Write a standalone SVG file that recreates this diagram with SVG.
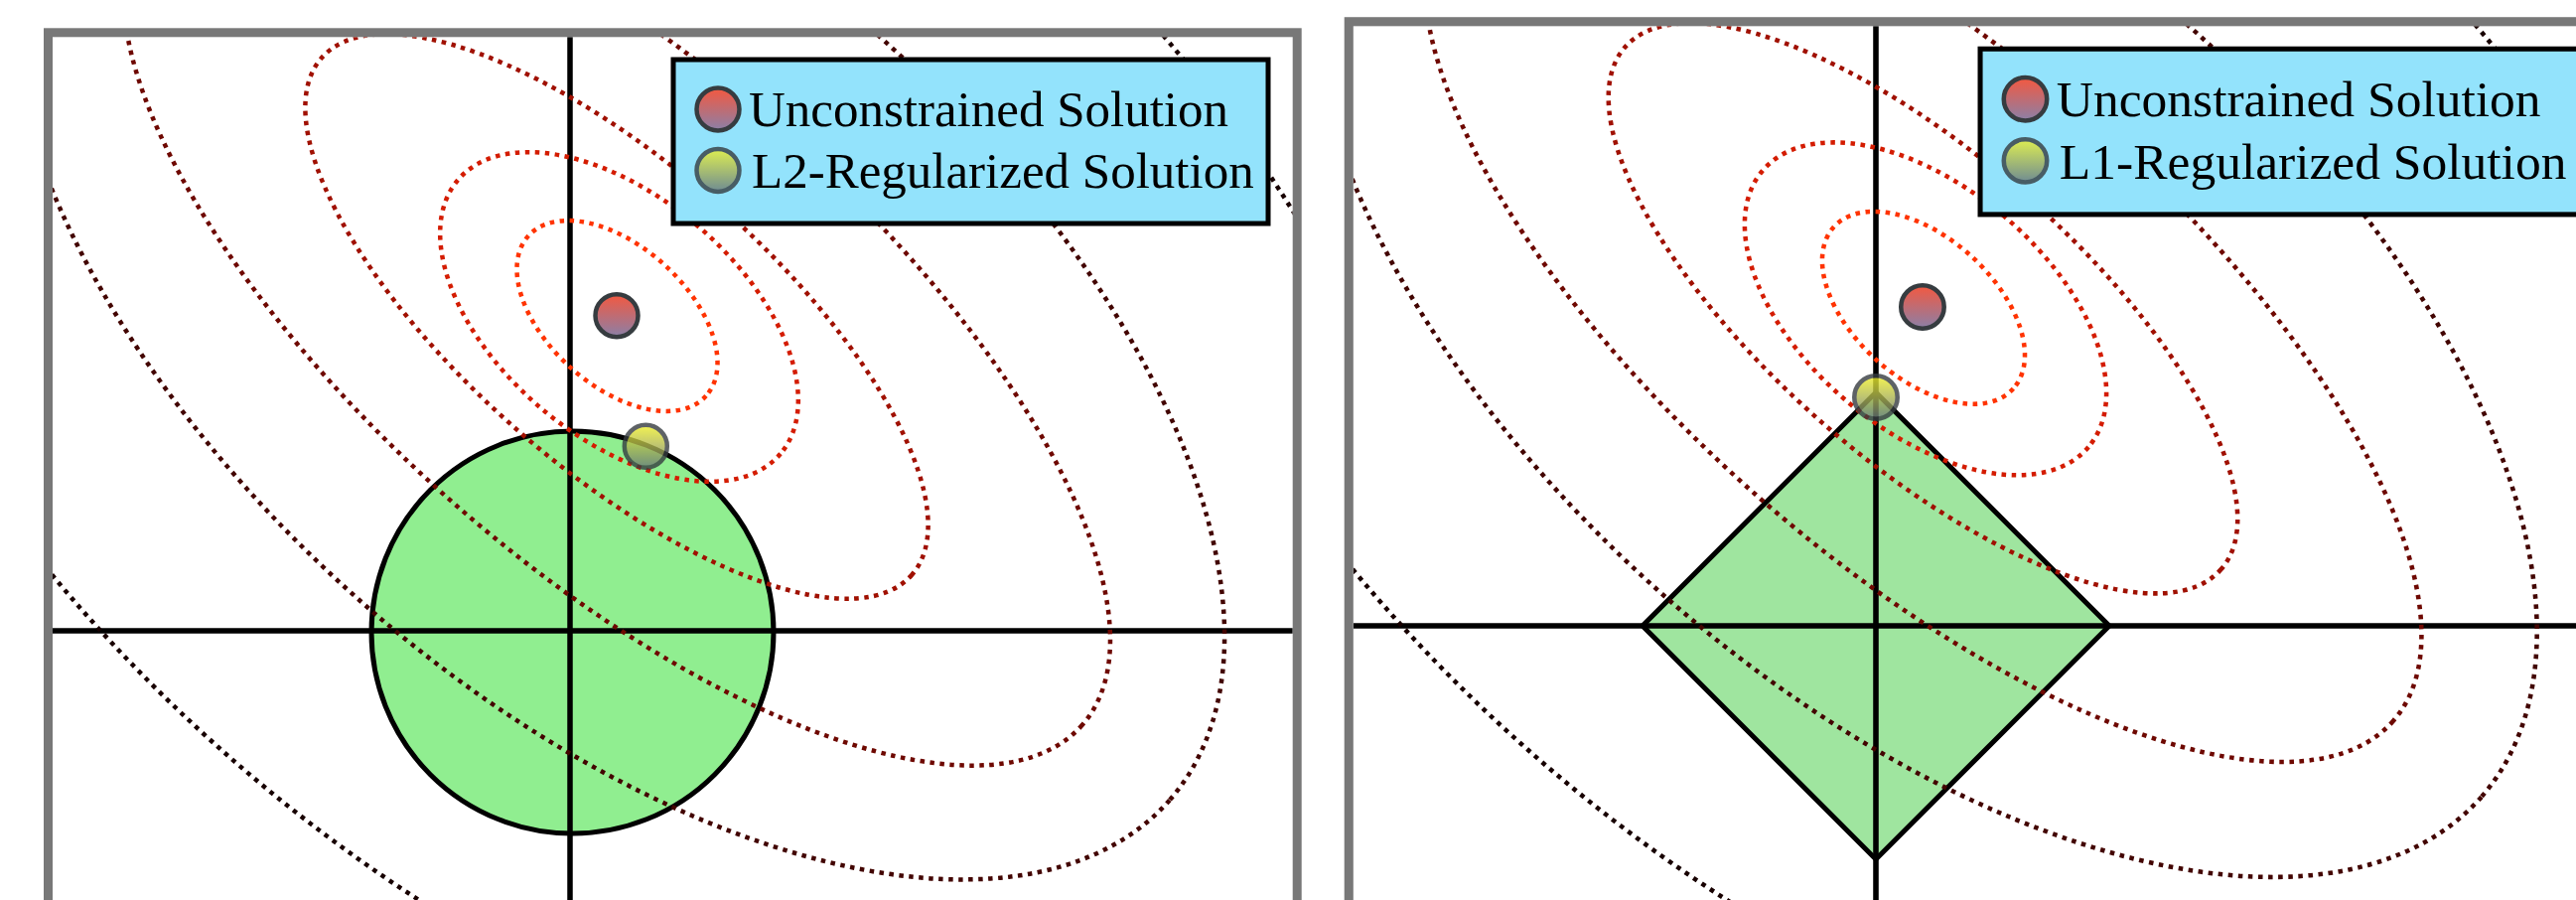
<svg xmlns="http://www.w3.org/2000/svg" width="2594" height="906" viewBox="0 0 2594 906">
<style>
.frame{fill:none;stroke:#787878;stroke-width:9}
.axis{stroke:#000;stroke-width:5.5;fill:none}
.region{stroke:#000;stroke-width:5;stroke-linejoin:miter}
.contour{fill:none;stroke-width:4.5;stroke-dasharray:4.5 5.5}
.legend-box{fill:#93e3fc;stroke:#000;stroke-width:5}
.label{font-family:"Liberation Serif","Times New Roman",serif;font-size:51px;fill:#000}
.dot{stroke:#363c40;stroke-width:4.5}
.dot-red{fill:url(#gRed)}
.dot-yel{fill:url(#gYel);opacity:0.8}
</style>
<defs>
<linearGradient id="gRed" x1="0" y1="0" x2="0" y2="1">
<stop offset="0" stop-color="#f4583f"/>
<stop offset="1" stop-color="#8a80a8"/>
</linearGradient>
<linearGradient id="gYel" x1="0" y1="0" x2="0" y2="1">
<stop offset="0" stop-color="#f2f226"/>
<stop offset="1" stop-color="#66767a"/>
</linearGradient>
<clipPath id="clipPanel"><rect x="53" y="37.3" width="1248.7" height="900"/></clipPath>
</defs>
<rect x="0" y="0" width="2594" height="906" fill="#fff"/>

<!-- LEFT PANEL: L2 -->
<g id="panel-l2">
<g clip-path="url(#clipPanel)">
<circle id="l2-region" class="region" cx="576.5" cy="636.5" r="202.5" fill="#90ee90"/>
<g id="l2-axes">
<line class="axis" x1="53" y1="635" x2="1302" y2="635"/>
<line class="axis" x1="574" y1="37" x2="574" y2="935"/>
</g>
<g id="l2-contours">
<ellipse class="contour" cx="621" cy="318" rx="985" ry="591" transform="rotate(41.2 621 318)" stroke="#170000"/>
<ellipse class="contour" cx="621" cy="318" rx="740" ry="386" transform="rotate(41.2 621 318)" stroke="#420400"/>
<ellipse class="contour" cx="621" cy="318" rx="624" ry="250" transform="rotate(41.3 621 318)" stroke="#6e0800"/>
<ellipse class="contour" cx="621" cy="318.5" rx="395" ry="152" transform="rotate(41.2 621 318.5)" stroke="#a01000"/>
<ellipse class="contour" cx="623.5" cy="319" rx="213" ry="121" transform="rotate(40.3 623.5 319)" stroke="#d41c00"/>
<ellipse class="contour" cx="621.5" cy="318" rx="120.4" ry="70.1" transform="rotate(42 621.5 318)" stroke="#ff3300"/>
</g>
<g id="l2-legend">
<rect class="legend-box" x="678" y="60" width="599" height="165"/>
<circle class="dot dot-red" cx="723" cy="110" r="21.5"/>
<circle class="dot dot-yel" cx="723" cy="171.5" r="21.5"/>
<text class="label" x="754" y="127">Unconstrained Solution</text>
<text class="label" x="757" y="189">L2-Regularized Solution</text>
</g>
<circle id="l2-unconstrained" class="dot dot-red" cx="621" cy="317.7" r="21.5"/>
<circle id="l2-solution" class="dot dot-yel" cx="650.3" cy="449.3" r="21.5"/>
</g>
<rect id="l2-frame" class="frame" x="48.5" y="32.8" width="1257.7" height="920"/>
</g>

<!-- RIGHT PANEL: L1 -->
<g id="panel-l1" transform="matrix(1.01 0 0 1.01 1309.26 -11.35)">
<g clip-path="url(#clipPanel)">
<polygon id="l1-region" class="region" points="574,402.3 806.7,635 574,867.7 341.3,635" fill="#9fe59f"/>
<g id="l1-axes">
<line class="axis" x1="53" y1="635" x2="1302" y2="635"/>
<line class="axis" x1="574" y1="37" x2="574" y2="935"/>
</g>
<g id="l1-contours">
<ellipse class="contour" cx="621" cy="318" rx="985" ry="591" transform="rotate(41.2 621 318)" stroke="#170000"/>
<ellipse class="contour" cx="621" cy="318" rx="740" ry="386" transform="rotate(41.2 621 318)" stroke="#420400"/>
<ellipse class="contour" cx="621" cy="318" rx="624" ry="250" transform="rotate(41.3 621 318)" stroke="#6e0800"/>
<ellipse class="contour" cx="621" cy="318.5" rx="395" ry="152" transform="rotate(41.2 621 318.5)" stroke="#a01000"/>
<ellipse class="contour" cx="623.5" cy="319" rx="213" ry="121" transform="rotate(40.3 623.5 319)" stroke="#d41c00"/>
<ellipse class="contour" cx="621.5" cy="318" rx="120.4" ry="70.1" transform="rotate(42 621.5 318)" stroke="#ff3300"/>
</g>
<g id="l1-legend">
<rect class="legend-box" x="678" y="60" width="599" height="165"/>
<circle class="dot dot-red" cx="723" cy="110" r="21.5"/>
<circle class="dot dot-yel" cx="723" cy="171.5" r="21.5"/>
<text class="label" x="754" y="127">Unconstrained Solution</text>
<text class="label" x="757" y="189">L1-Regularized Solution</text>
</g>
<circle id="l1-unconstrained" class="dot dot-red" cx="620.5" cy="317.2" r="21.5"/>
<circle id="l1-solution" class="dot dot-yel" cx="574" cy="407.3" r="21.5"/>
</g>
<rect id="l1-frame" class="frame" x="48.5" y="32.8" width="1257.7" height="920"/>
</g>
</svg>
